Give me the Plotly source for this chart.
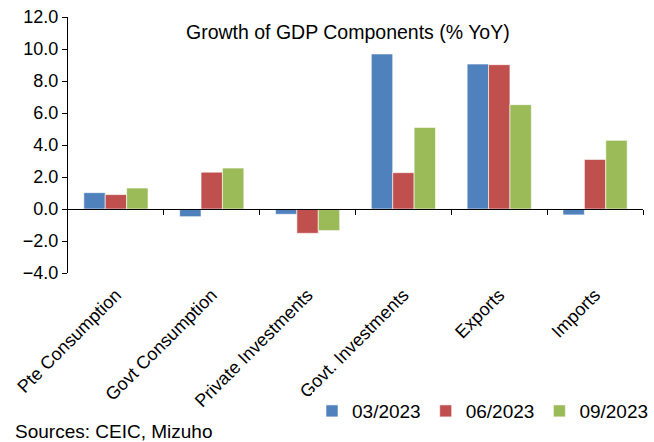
import plotly.graph_objects as go

categories = ["Pte Consumption", "Govt Consumption", "Private Investments",
              "Govt. Investments", "Exports", "Imports"]
q1_2023 = [1.02, -0.48, -0.33, 9.69, 9.06, -0.37]
q2_2023 = [0.90, 2.30, -1.52, 2.27, 9.02, 3.10]
q3_2023 = [1.31, 2.56, -1.35, 5.10, 6.52, 4.29]
series_names = ["03/2023", "06/2023", "09/2023"]
colors = ["#4F81BD", "#C0504D", "#9BBB59"]

FONT = "Liberation Sans, Arial, sans-serif"
Y_MIN, Y_MAX = -4, 12

fig = go.Figure()
for name, vals, col in zip(series_names, [q1_2023, q2_2023, q3_2023], colors):
    fig.add_trace(go.Bar(
        x=list(range(len(categories))), y=vals, name=name,
        marker=dict(color=col, line=dict(color="rgba(255,255,255,0.6)", width=1)),
    ))

# helper trace so the zero-line category axis gets drawn
fig.add_trace(go.Scatter(x=[0], y=[None], xaxis="x2", showlegend=False,
                         hoverinfo="skip"))

fig.update_layout(
    width=654, height=442,
    margin=dict(l=68, r=11, t=17, b=169, autoexpand=False),
    plot_bgcolor="white", paper_bgcolor="white",
    font=dict(family=FONT, size=18, color="black"),
    barmode="group", bargap=0.33, bargroupgap=0,
    xaxis=dict(
        range=[-0.5, 5.5], tickmode="array",
        tickvals=list(range(len(categories))), ticktext=categories,
        tickangle=-45, showline=False, ticks="", showgrid=False,
        zeroline=False, tickfont=dict(size=18), ticklabelstandoff=7,
    ),
    xaxis2=dict(
        overlaying="x", anchor="free", position=(0 - Y_MIN) / (Y_MAX - Y_MIN),
        side="bottom", range=[-0.5, 5.5], tickmode="array",
        tickvals=[0.5, 1.5, 2.5, 3.5, 4.5, 5.5], showticklabels=False,
        ticks="outside", ticklen=5, tickcolor="black", tickwidth=1,
        showline=True, linecolor="black", linewidth=1, showgrid=False,
        zeroline=False,
    ),
    yaxis=dict(
        range=[Y_MIN, Y_MAX], dtick=2, tickformat=".1f",
        showline=True, linecolor="black", linewidth=1,
        ticks="outside", ticklen=5, tickcolor="black",
        showgrid=False, zeroline=False, tickfont=dict(size=18),
    ),
    legend=dict(orientation="h", xref="container", yref="container",
                x=1.0, xanchor="right", y=0.07, yanchor="middle",
                font=dict(size=19), tracegroupgap=0),
    showlegend=True,
)

fig.add_annotation(text="Growth of GDP Components (% YoY)", xref="paper",
                   yref="paper", x=0.487, y=0.941, showarrow=False,
                   font=dict(size=19.5), xanchor="center", yanchor="middle")
fig.add_annotation(text="Sources: CEIC, Mizuho", xref="paper", yref="paper",
                   x=-0.0957, y=-0.621, xanchor="left", yanchor="middle",
                   showarrow=False, font=dict(size=19))

fig.write_html("out.html")
